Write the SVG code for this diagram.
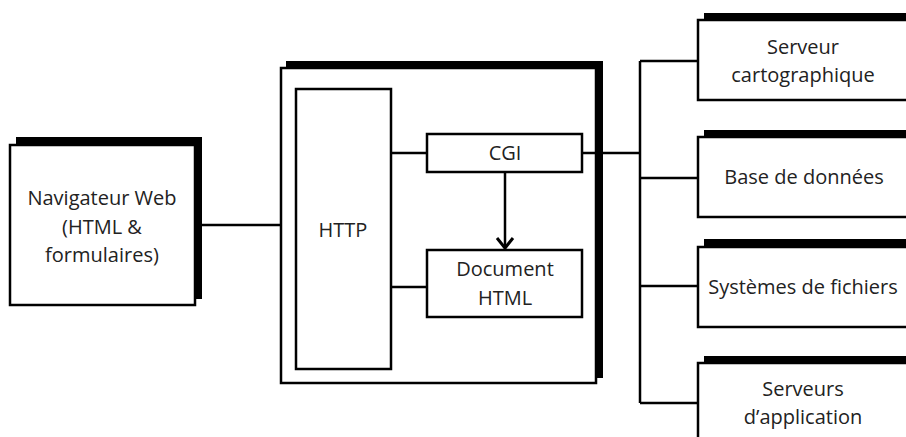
<svg xmlns="http://www.w3.org/2000/svg" width="906" height="437" viewBox="0 0 906 437">
<defs>
<style>
.sh{fill:#000}
.box{fill:#fff;stroke:#000;stroke-width:2.5}
.ln{fill:none;stroke:#000;stroke-width:2.5}
text{font-family:"Open Sans","Liberation Sans",sans-serif;font-size:20px;fill:#222;text-anchor:middle}
</style>
<marker id="arr" markerWidth="16" markerHeight="20" refX="11" refY="9" orient="auto" markerUnits="userSpaceOnUse" viewBox="0 0 16 18">
<path d="M1,1 L11,9 L1,17" fill="none" stroke="#000" stroke-width="3"/>
</marker>
</defs>
<rect width="906" height="437" fill="#fff"/>
<g id="navigateur">
<rect class="sh" x="16" y="137" width="186" height="162"/>
<rect class="box" x="10" y="145" width="185" height="160"/>
<text x="102" y="205">Navigateur Web</text>
<text x="102" y="234">(HTML &amp;</text>
<text x="102" y="262">formulaires)</text>
</g>
<g id="serveur-web">
<rect class="sh" x="286" y="61" width="317" height="317"/>
<rect class="box" x="281" y="68" width="315" height="315"/>
</g>
<g id="http">
<rect class="box" x="296" y="89" width="95" height="280"/>
<text x="343" y="237">HTTP</text>
</g>
<g id="cgi">
<rect class="box" x="427" y="134" width="155" height="38"/>
<text x="505" y="160">CGI</text>
</g>
<g id="document-html">
<rect class="box" x="427" y="250" width="155" height="67"/>
<text x="505" y="276">Document</text>
<text x="505" y="305">HTML</text>
</g>
<g id="serveur-carto">
<rect class="sh" x="704" y="13" width="210" height="80"/>
<rect class="box" x="698" y="20" width="215" height="80"/>
<text x="803" y="54">Serveur</text>
<text x="803" y="82">cartographique</text>
</g>
<g id="base-donnees">
<rect class="sh" x="704" y="130" width="210" height="80"/>
<rect class="box" x="698" y="137" width="215" height="80"/>
<text x="804" y="184">Base de données</text>
</g>
<g id="systemes-fichiers">
<rect class="sh" x="704" y="239" width="210" height="80"/>
<rect class="box" x="698" y="247" width="215" height="80"/>
<text x="803" y="294">Systèmes de fichiers</text>
</g>
<g id="serveurs-application">
<rect class="sh" x="704" y="356" width="210" height="90"/>
<rect class="box" x="698" y="363" width="215" height="90"/>
<text x="803" y="396">Serveurs</text>
<text x="803" y="424">d’application</text>
</g>
<g id="connectors">
<line class="ln" x1="202" y1="225" x2="281" y2="225"/>
<line class="ln" x1="391" y1="153" x2="427" y2="153"/>
<line class="ln" x1="391" y1="287" x2="427" y2="287"/>
<line class="ln" x1="505" y1="172" x2="505" y2="248" marker-end="url(#arr)"/>
<line class="ln" x1="582" y1="153" x2="640" y2="153"/>
<line class="ln" x1="640" y1="61" x2="640" y2="403"/>
<line class="ln" x1="640" y1="61" x2="698" y2="61"/>
<line class="ln" x1="640" y1="178" x2="698" y2="178"/>
<line class="ln" x1="640" y1="286" x2="698" y2="286"/>
<line class="ln" x1="640" y1="403" x2="698" y2="403"/>
</g>
</svg>
